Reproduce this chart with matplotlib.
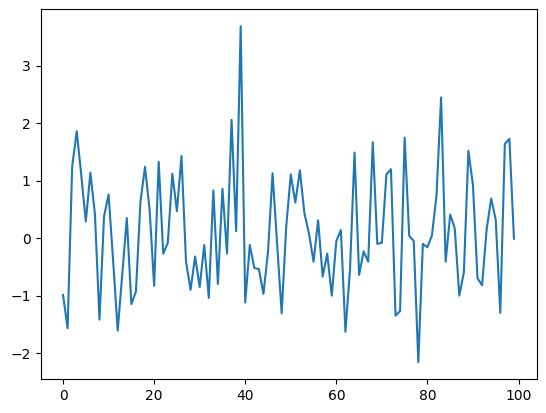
import numpy as np
import matplotlib
matplotlib.use("Agg")
import matplotlib.pyplot as plt

# valores (indices 0..99)
valores = [
    -0.99, -1.57, 1.24, 1.86, 1.10, 0.29, 1.14, 0.42, -1.42, 0.38,
    0.76, -0.40, -1.61, -0.63, 0.35, -1.15, -0.93, 0.64, 1.24, 0.50,
    -0.83, 1.33, -0.27, -0.08, 1.12, 0.47, 1.43, -0.41, -0.90, -0.32,
    -0.85, -0.12, -1.04, 0.83, -0.80, 0.86, -0.27, 2.06, 0.12, 3.69,
    -1.12, -0.12, -0.52, -0.54, -0.97, -0.24, 1.13, -0.10, -1.31, 0.20,
    1.11, 0.62, 1.18, 0.43, 0.08, -0.41, 0.31, -0.67, -0.27, -1.00,
    -0.05, 0.14, -1.63, -0.55, 1.49, -0.64, -0.23, -0.41, 1.67, -0.10,
    -0.08, 1.11, 1.20, -1.35, -1.27, 1.75, 0.04, -0.05, -2.16, -0.10,
    -0.16, 0.05, 0.75, 2.45, -0.41, 0.41, 0.17, -1.00, -0.60, 1.52,
    0.92, -0.70, -0.82, 0.15, 0.69, 0.32, -1.30, 1.64, 1.73, -0.01,
]
x = np.arange(len(valores))

fig = plt.figure(figsize=(5.46, 4.13), dpi=100)
ax = fig.add_axes([40.5 / 546, 34 / 413, 496 / 546, 369.6 / 413])
ax.plot(x, valores)

fig.savefig("out.png", dpi=100)
